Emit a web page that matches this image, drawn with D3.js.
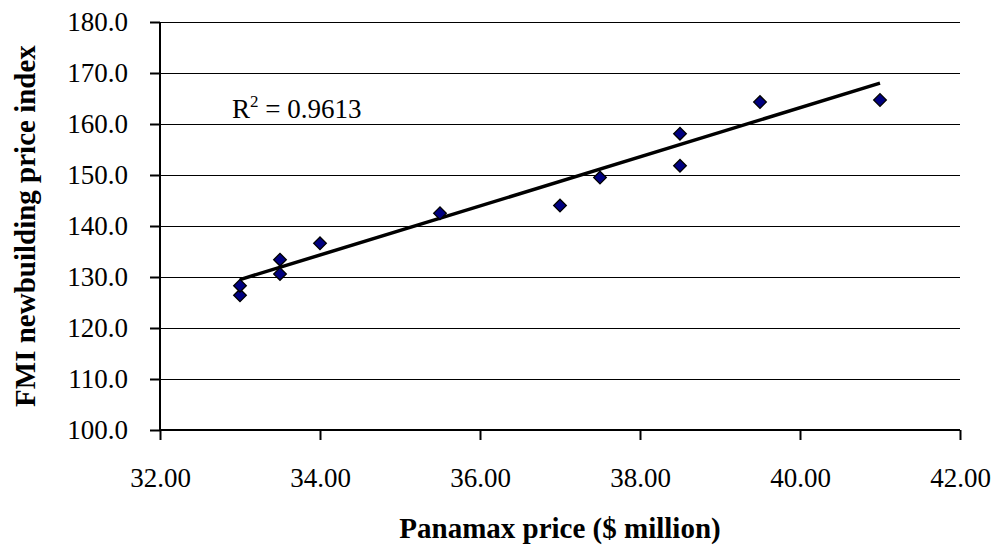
<!DOCTYPE html>
<html>
<head>
<meta charset="utf-8">
<script src="https://cdn.jsdelivr.net/npm/d3@7"></script>
<style>
  body { margin: 0; background: #fff; }
  text { font-family: "Liberation Serif", "Times New Roman", serif; fill: #000; }
</style>
</head>
<body>
<svg id="chart" width="992" height="546"></svg>
<script>
// Panamax price ($ million) vs FMI newbuilding price index
const panamaxPrice = [33.0, 33.0, 33.5, 33.5, 34.0, 35.5, 37.0, 37.5, 38.5, 38.5, 39.5, 41.0];
const fmiIndex = [126.4, 128.3, 130.6, 133.4, 136.6, 142.5, 144.0, 149.5, 151.8, 158.1, 164.3, 164.7];
// Linear trendline as drawn in the source (read at its two ends)
const trendX = [33.0, 41.0];
const trendY = [129.5, 168.0];
const xTicks = [32, 34, 36, 38, 40, 42];
const yTicks = [100, 110, 120, 130, 140, 150, 160, 170, 180];
const rSquaredLabel = "0.9613";

const svg = d3.select("#chart");
const margin = { left: 160, right: 32, top: 22, bottom: 116 };
const width = 992 - margin.left - margin.right;
const height = 546 - margin.top - margin.bottom;

const x = d3.scaleLinear().domain([32, 42]).range([0, width]);
const y = d3.scaleLinear().domain([100, 180]).range([height, 0]);

const g = svg.append("g").attr("transform", `translate(${margin.left},${margin.top})`);

// Horizontal gridlines
g.append("g")
  .selectAll("line")
  .data(yTicks.slice(1))
  .join("line")
  .attr("x1", 0)
  .attr("x2", width)
  .attr("y1", (d) => Math.round(y(d)) + 0.5)
  .attr("y2", (d) => Math.round(y(d)) + 0.5)
  .attr("stroke", "#000")
  .attr("stroke-width", 1);

// Axes
const yAxis = g.append("g")
  .call(d3.axisLeft(y).tickValues(yTicks).tickFormat(d3.format(".1f")).tickSize(10).tickPadding(22));
const xAxis = g.append("g")
  .attr("transform", `translate(0,${height})`)
  .call(d3.axisBottom(x).tickValues(xTicks).tickFormat(d3.format(".2f")).tickSize(10).tickPadding(28));

[yAxis, xAxis].forEach((ax) => {
  ax.attr("font-family", null).attr("font-size", null);
  ax.select(".domain").attr("stroke", "#000").attr("stroke-width", 2);
  ax.selectAll(".tick line").attr("stroke", "#000").attr("stroke-width", 2);
  ax.selectAll(".tick text")
    .style("font-family", '"Liberation Serif", serif')
    .style("font-size", "27px")
    .attr("fill", "#000");
});
xAxis.select(".domain").attr("d", `M0,0H${width}`);
yAxis.select(".domain").attr("d", `M0,${height}V0`);

// Trendline
g.append("line")
  .attr("x1", x(trendX[0]))
  .attr("y1", y(trendY[0]))
  .attr("x2", x(trendX[1]))
  .attr("y2", y(trendY[1]))
  .attr("stroke", "#000")
  .attr("stroke-width", 3.5);

// Diamond markers
g.append("g")
  .selectAll("path")
  .data(panamaxPrice.map((d, i) => [d, fmiIndex[i]]))
  .join("path")
  .attr("d", d3.symbol(d3.symbolSquare, 80)())
  .attr("transform", (d) => `translate(${x(d[0])},${y(d[1])}) rotate(45)`)
  .attr("fill", "#000080")
  .attr("stroke", "#000")
  .attr("stroke-width", 1.3);

// R-squared label
const rText = g.append("text")
  .attr("x", x(32.9))
  .attr("y", y(161.2))
  .style("font-size", "27px");
rText.append("tspan").text("R");
rText.append("tspan").attr("dy", -11).style("font-size", "17px").text("2");
rText.append("tspan").attr("dy", 11).text(" = " + rSquaredLabel);

// Axis titles
svg.append("text")
  .attr("x", margin.left + width / 2)
  .attr("y", 538)
  .attr("text-anchor", "middle")
  .style("font-size", "29px")
  .attr("font-weight", "bold")
  .text("Panamax price ($ million)");

svg.append("text")
  .attr("transform", `translate(35,${margin.top + height / 2}) rotate(-90)`)
  .attr("text-anchor", "middle")
  .style("font-size", "29px")
  .attr("font-weight", "bold")
  .text("FMI newbuilding price index");
</script>
</body>
</html>
